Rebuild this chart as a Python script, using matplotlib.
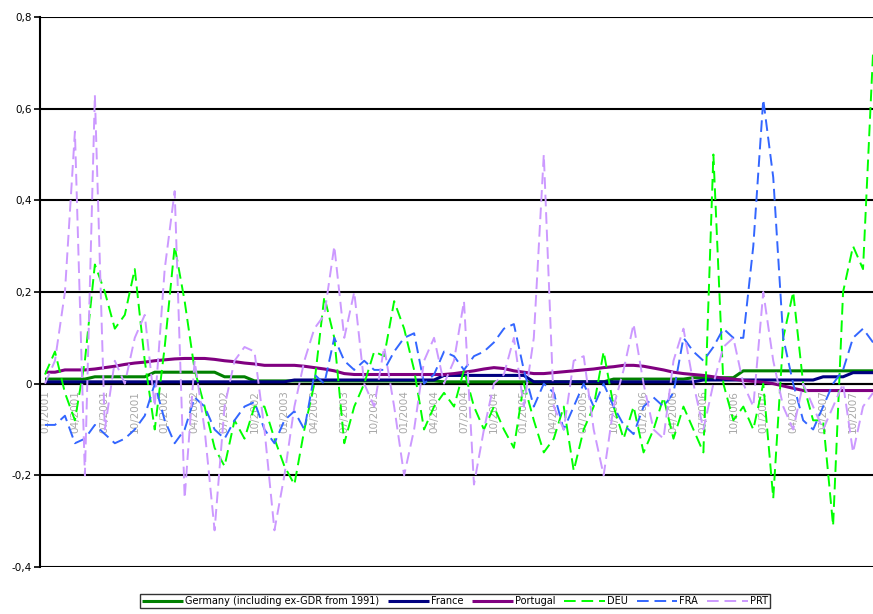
import matplotlib
matplotlib.use("Agg")
import matplotlib.pyplot as plt
import numpy as np

# ---- data (monthly, 01/2001 .. 12/2007) ----
months = [f"{m:02d}/{y}" for y in range(2001, 2008) for m in range(1, 13)]

germany = [0.010]*5 + [0.015]*6 + [0.025]*7 + [0.015]*3 + [0.006]*19 + [0.004]*17 + [0.010]*8 + [0.013]*5 + [0.028]*14
france = [0.004]*25 + [0.008]*15 + [0.018]*9 + [0.004]*17 + [0.008]*12 + [0.015]*3 + [0.024]*3
portugal = ([0.025, 0.025, 0.030, 0.030, 0.030, 0.032, 0.035, 0.038, 0.042, 0.045, 0.047, 0.050,
             0.052, 0.054, 0.055, 0.055, 0.055, 0.053, 0.050, 0.048, 0.045, 0.043, 0.040, 0.040,
             0.040, 0.040, 0.038, 0.035, 0.032, 0.028, 0.022, 0.020, 0.020, 0.020, 0.020, 0.020,
             0.020, 0.020, 0.020, 0.020, 0.020, 0.022, 0.025, 0.028, 0.032, 0.035, 0.033, 0.028,
             0.025, 0.022, 0.022, 0.024, 0.026, 0.028, 0.030, 0.032, 0.035, 0.037, 0.040, 0.040,
             0.038, 0.034, 0.030, 0.025, 0.022, 0.020, 0.018, 0.015, 0.012, 0.010, 0.007, 0.005,
             0.003, 0.000, -0.005, -0.010, -0.015, -0.015, -0.015, -0.015, -0.015, -0.015, -0.015, -0.015])

deu = [0.02, 0.07, -0.02, -0.08, 0.05, 0.26, 0.20, 0.12, 0.15, 0.25, 0.05, -0.10,
       0.08, 0.30, 0.18, 0.03, -0.05, -0.14, -0.18, -0.08, -0.12, -0.05, -0.05, -0.12,
       -0.18, -0.22, -0.10, 0.00, 0.19, 0.10, -0.13, -0.05, 0.00, 0.07, 0.06, 0.18,
       0.12, 0.03, -0.10, -0.05, -0.02, -0.05, 0.03, -0.05, -0.10, -0.05, -0.10, -0.14,
       0.00, -0.08, -0.15, -0.12, -0.05, -0.19, -0.10, -0.05, 0.07, -0.05, -0.12, -0.05,
       -0.15, -0.10, -0.03, -0.12, -0.05, -0.10, -0.15, 0.50, 0.00, -0.08, -0.05, -0.10,
       0.00, -0.25, 0.10, 0.20, 0.00, -0.08, -0.08, -0.31, 0.20, 0.30, 0.25, 0.72]

fra = [-0.09, -0.09, -0.07, -0.13, -0.12, -0.09, -0.11, -0.13, -0.12, -0.10, -0.07, 0.00,
       -0.08, -0.13, -0.10, -0.03, -0.05, -0.10, -0.12, -0.08, -0.05, -0.04, -0.10, -0.13,
       -0.08, -0.06, -0.10, 0.02, 0.00, 0.10, 0.05, 0.03, 0.05, 0.03, 0.03, 0.07,
       0.10, 0.11, 0.00, 0.02, 0.07, 0.06, 0.03, 0.06, 0.07, 0.09, 0.12, 0.13,
       0.03, -0.05, 0.00, -0.02, -0.10, -0.05, 0.00, -0.05, 0.00, -0.05, -0.09, -0.11,
       -0.05, -0.03, -0.05, -0.02, 0.10, 0.07, 0.05, 0.08, 0.12, 0.10, 0.10, 0.30,
       0.62, 0.45, 0.10, 0.00, -0.08, -0.10, -0.05, 0.00, 0.03, 0.10, 0.12, 0.09]

prt = [0.00, 0.05, 0.20, 0.55, -0.20, 0.63, -0.10, 0.05, 0.00, 0.10, 0.15, -0.05,
       0.25, 0.42, -0.25, 0.05, -0.10, -0.32, -0.05, 0.05, 0.08, 0.07, -0.10, -0.32,
       -0.20, -0.05, 0.05, 0.12, 0.15, 0.30, 0.10, 0.20, 0.00, -0.05, 0.08, -0.05,
       -0.20, -0.10, 0.05, 0.10, 0.00, 0.05, 0.18, -0.22, -0.10, 0.00, 0.02, 0.10,
       -0.05, 0.10, 0.50, -0.05, -0.10, 0.05, 0.06, -0.10, -0.20, -0.05, 0.03, 0.13,
       0.00, -0.10, -0.12, 0.05, 0.12, 0.00, -0.10, 0.00, 0.08, 0.10, 0.00, -0.05,
       0.20, 0.05, -0.05, -0.10, 0.00, -0.05, -0.10, -0.05, 0.00, -0.15, -0.05, -0.02]

labels = ["Germany (including ex-GDR from 1991)", "France", "Portugal", "DEU", "FRA", "PRT"]
y_ticks = [-0.4, -0.2, 0.0, 0.2, 0.4, 0.6, 0.8]

# ---- figure ----
fig = plt.figure(figsize=(8.73, 6.14), dpi=100)
ax = fig.add_axes([40/873, 1-567/614, 1-40/873, 550/614])

x = np.arange(len(months))
solid = [(germany, "#008000"), (france, "#000080"), (portugal, "#800080")]
dashed = [(deu, "#00FF00"), (fra, "#3366FF"), (prt, "#CC99FF")]
handles = []
for (s, c), lab in zip(solid, labels[:3]):
    h, = ax.plot(x, s, color=c, lw=2.2, solid_capstyle="butt", zorder=3)
    handles.append(h)
for (s, c), lab in zip(dashed, labels[3:]):
    h, = ax.plot(x, s, color=c, lw=1.4, dashes=(6, 3), zorder=4)
    handles.append(h)

ax.set_xlim(-0.5, 83.0)
ax.set_ylim(-0.4, 0.8)
ax.set_yticks(y_ticks)
ax.set_yticklabels(["0" if v == 0 else f"{v:.1f}".replace(".", ",") for v in y_ticks], fontsize=7.5)
for v in y_ticks:
    ax.axhline(v, color="black", lw=1.5, zorder=2)

ax.spines["right"].set_visible(False)
ax.spines["top"].set_visible(False)
ax.spines["left"].set_linewidth(1.5)
ax.spines["bottom"].set_position(("data", 0))
ax.spines["bottom"].set_linewidth(1.5)
ax.tick_params(axis="y", length=4, width=1.2, pad=2)

tick_idx = list(range(0, len(months), 3))
ax.set_xticks(tick_idx)
ax.set_xticklabels([months[i] for i in tick_idx], rotation=90, fontsize=7.5, color="#A8A8A8")
ax.tick_params(axis="x", length=0, pad=5)

leg = fig.legend(handles, labels, loc="center", bbox_to_anchor=(455/873, 1-601/614), ncol=6,
                 fontsize=7, frameon=True, fancybox=False, edgecolor="black", handlelength=4.2,
                 handletextpad=0.2, columnspacing=0.9, borderpad=0.25)
leg.get_frame().set_linewidth(1.0)

fig.savefig("out.png", dpi=100)
